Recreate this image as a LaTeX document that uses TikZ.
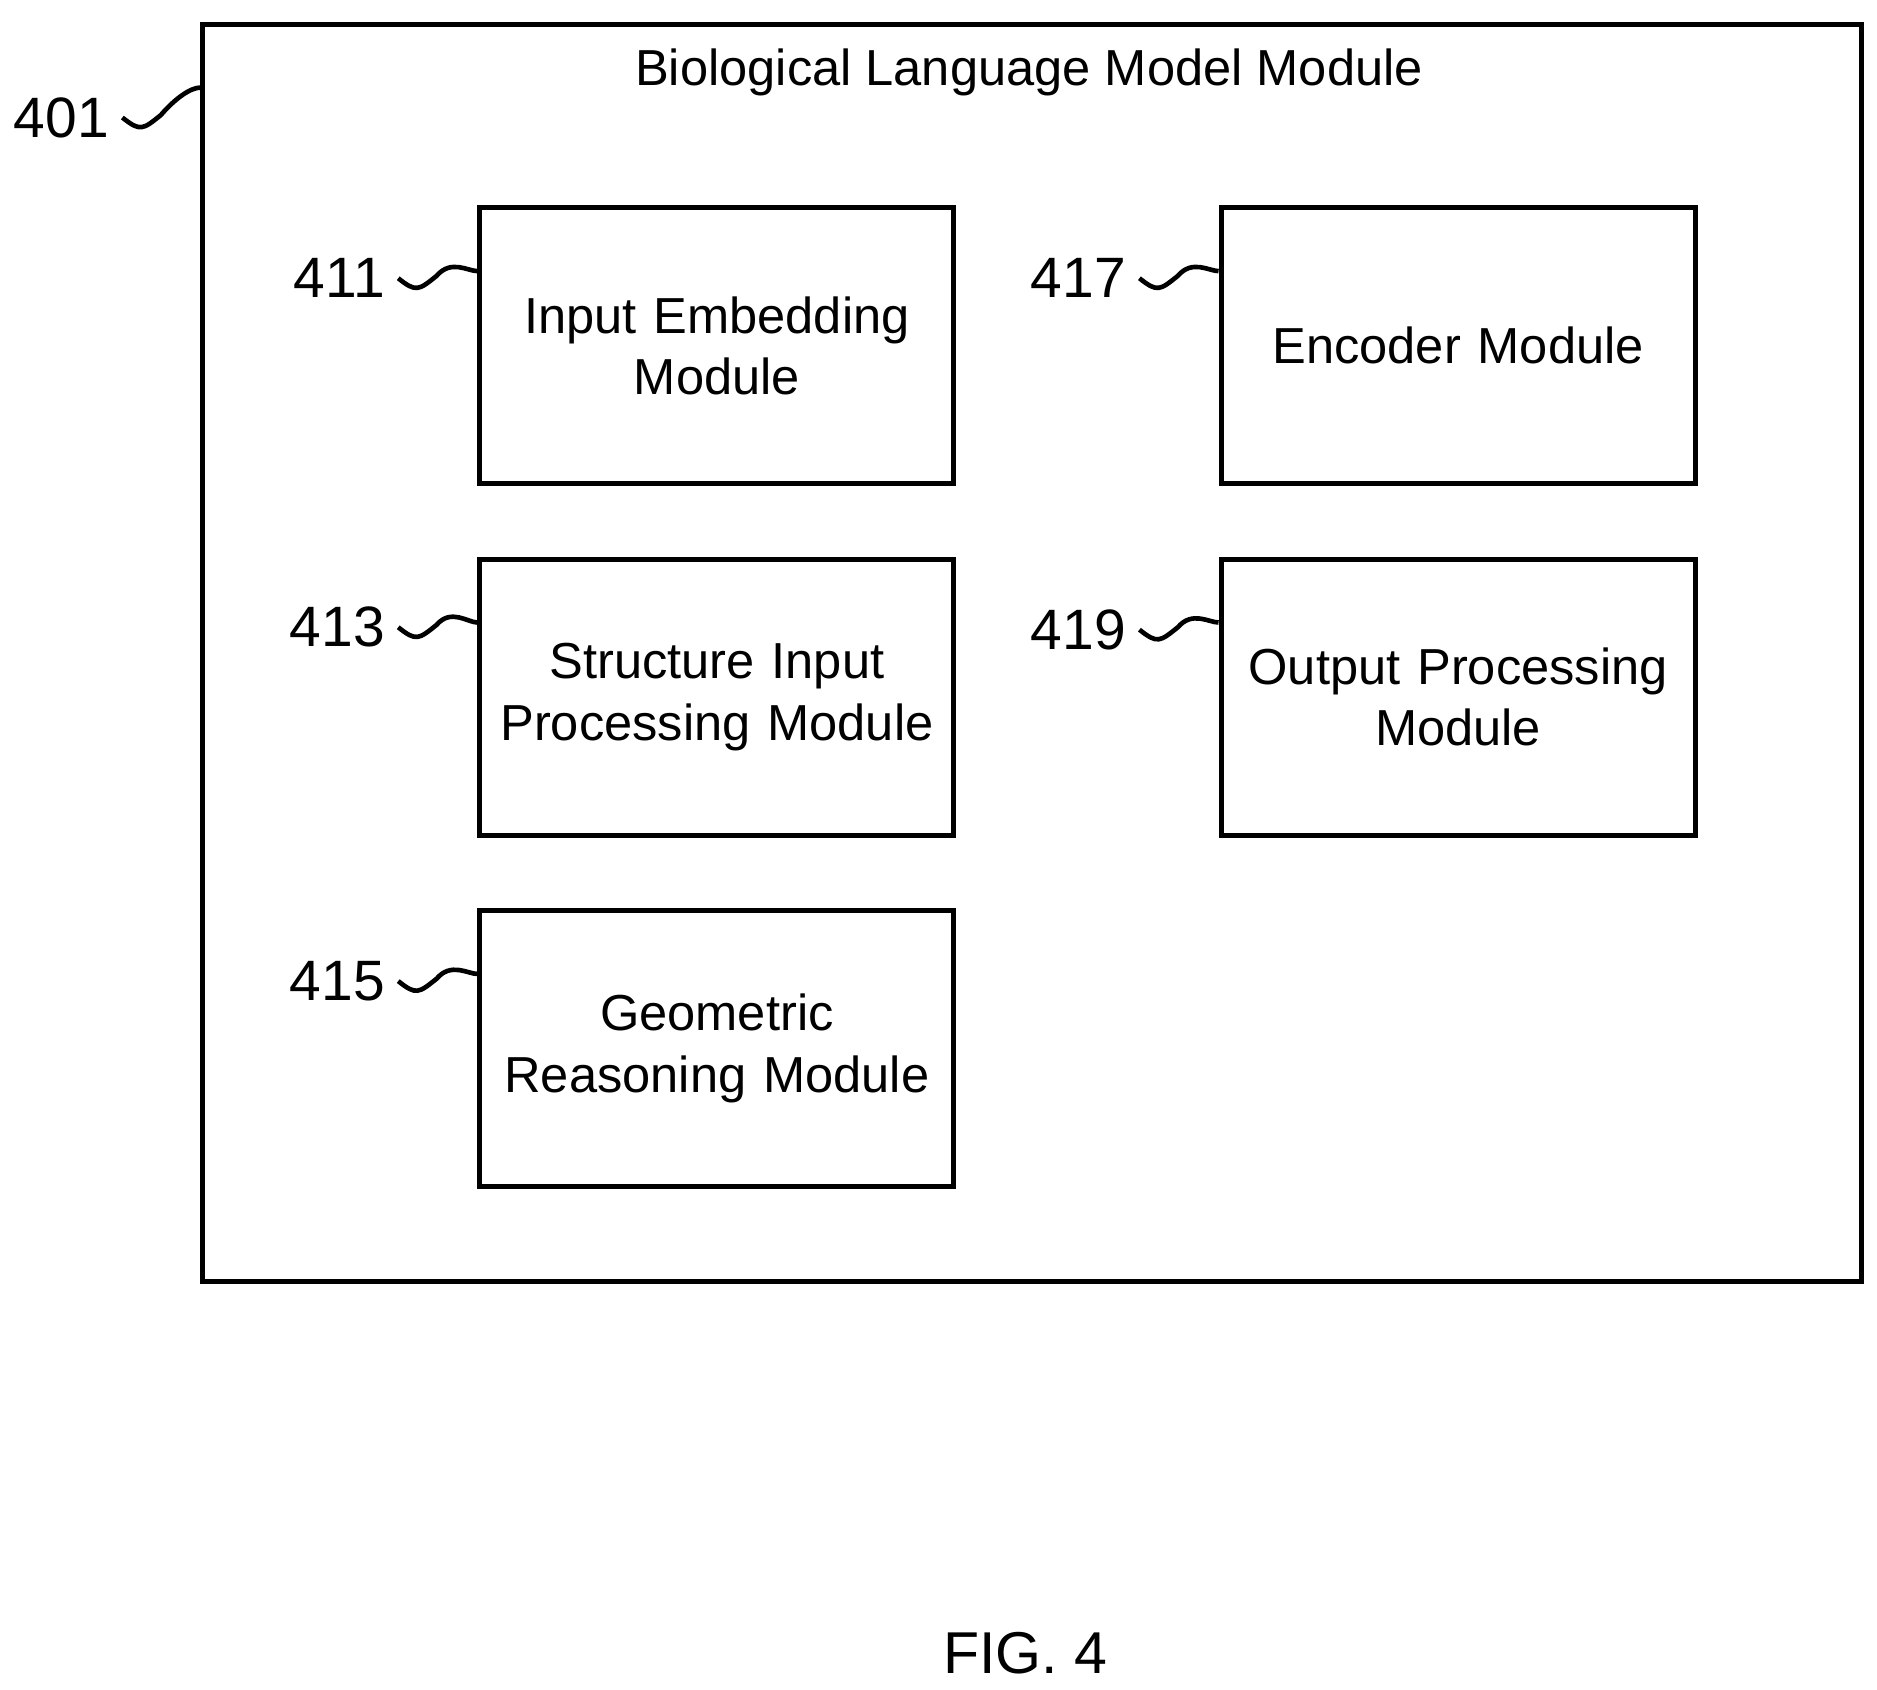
\documentclass[tikz,border=0pt]{standalone}
\usepackage{fontspec}
\setmainfont{Liberation Sans}
\usetikzlibrary{positioning}
\tikzset{
  module/.style={draw, line width=1.2pt, minimum width=3.95cm, minimum height=2.3cm,
    text width=3.8cm, align=center, font=\fontsize{12}{14.5}\selectfont, anchor=north west, inner sep=0pt},
  refnum/.style={font=\fontsize{13.5}{16}\selectfont, anchor=east, inner sep=1pt},
  squig/.style={line width=1.1pt}
}
\begin{document}
\begin{tikzpicture}[x=0.01cm, y=-0.01cm]
  \useasboundingbox (0,0) rectangle (1565,1409);
  % Rahmen
  \node[draw, line width=1.2pt, minimum width=13.82cm, minimum height=10.48cm,
        anchor=north west, inner sep=0pt] (blm) at (167,18) {};
  \node[font=\fontsize{12}{14.5}\selectfont] (blmtitle) at (858,60) {Biological Language Model Module};

  % Module
  \node[module] (emb) at (398,171) {Input Embedding\\Module};
  \node[module] (struct) at (398,464) {Structure Input\\Processing Module};
  \node[module] (geo) at (398,757) {Geometric\\Reasoning Module};
  \node[module] (enc) at (1016,171) {Encoder Module};
  \node[module] (out) at (1016,464) {Output Processing\\Module};

  % Bezugszeichen
  \foreach \name/\num/\lx/\ly in {blm/401/95/98, emb/411/325/232, struct/413/325/523,
      geo/415/325/818, enc/417/943/232, out/419/943/525} {
    \node[refnum] (n\num) at (\lx,\ly) {\num};
    \coordinate (t\num) at ([yshift=-0.55cm]\name.north west);
    \draw[squig] ([xshift=2pt]n\num.east) .. controls +(0.15cm,-0.12cm) and +(-0.15cm,-0.12cm) .. +(0.32cm,0.02cm)
      .. controls +(0.12cm,0.14cm) and +(-0.08cm,0) .. (t\num);
  }

  \node[font=\fontsize{14}{17}\selectfont] (fig) at (855,1378) {FIG. 4};
\end{tikzpicture}
\end{document}
